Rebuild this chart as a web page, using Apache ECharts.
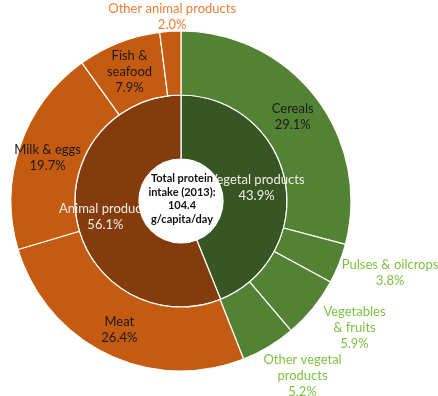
<!DOCTYPE html>
<html>
<head>
<meta charset="utf-8">
<script src="https://cdn.jsdelivr.net/npm/echarts@6/dist/echarts.min.js"></script>
<style>
  html, body { margin: 0; padding: 0; background: #ffffff; }
  #chart { width: 438px; height: 396px; }
</style>
</head>
<body>
<div id="chart"></div>
<script>
// Protein intake split: inner ring by origin, outer ring by food group
const groupNames = ['Vegetal products', 'Animal products'];
const groupShares = [43.9, 56.1];

const foodNames = [
  'Cereals', 'Pulses & oilcrops', 'Vegetables\n& fruits', 'Other vegetal\nproducts',
  'Meat', 'Milk & eggs', 'Fish &\nseafood', 'Other animal products'
];
const foodShares = [29.1, 3.8, 5.9, 5.2, 26.4, 19.7, 7.9, 2.0];

const centerText = 'Total protein\nintake (2013):\n104.4\ng/capita/day';

// Colours
const innerColors = ['#375623', '#843C0C'];
const outerColors = ['#548235', '#548235', '#548235', '#548235',
                     '#C55A11', '#C55A11', '#C55A11', '#C55A11'];
const FONT = 'Lato, "Open Sans", sans-serif';

// Labels of the small slices sit outside the ring
const outsideLabel = {
  'Pulses & oilcrops': { dx: 78, dy: 20, color: '#7CC242' },
  'Vegetables\n& fruits': { dx: 64, dy: 38, color: '#7CC242' },
  'Other vegetal\nproducts': { dx: 49, dy: 54, color: '#7CC242' },
  'Other animal products': { dx: 0, dy: -43, color: '#ED7D31' }
};

const CX = 181, CY = 201;
const HOLE = 42;

const chart = echarts.init(document.getElementById('chart'), null, { renderer: 'canvas' });

const ringLabel = (color) => ({
  position: 'inside',
  color: color,
  fontFamily: FONT,
  fontSize: 13,
  lineHeight: 16,
  formatter: p => p.name + '\n' + p.value.toFixed(1) + '%'
});

chart.setOption({
  backgroundColor: '#ffffff',
  animation: false,
  series: [
    {
      type: 'pie',
      z: 2,
      center: [CX, CY],
      radius: [HOLE, 106],
      startAngle: 90,
      clockwise: true,
      silent: true,
      avoidLabelOverlap: false,
      itemStyle: { borderColor: '#ffffff', borderWidth: 1.2 },
      label: ringLabel('#F4ECE6'),
      labelLine: { show: false },
      labelLayout: () => ({ dy: 1.5 }),
      data: groupNames.map((n, i) => ({
        name: n, value: groupShares[i], itemStyle: { color: innerColors[i] }
      }))
    },
    {
      type: 'pie',
      z: 2,
      center: [CX, CY],
      radius: [106, 170],
      startAngle: 90,
      clockwise: true,
      silent: true,
      avoidLabelOverlap: false,
      itemStyle: { borderColor: '#ffffff', borderWidth: 1.2 },
      label: ringLabel('#1a1a1a'),
      labelLine: { show: false },
      labelLayout: p => {
        const o = outsideLabel[foodNames[p.dataIndex]];
        return o ? { dx: o.dx, dy: o.dy } : { dy: 2 };
      },
      data: foodNames.map((n, i) => {
        const o = outsideLabel[n];
        const d = { name: n, value: foodShares[i], itemStyle: { color: outerColors[i] } };
        if (o) d.label = { color: o.color };
        return d;
      })
    },
    {
      // white disc in the middle, drawn over the inner labels
      type: 'pie',
      z: 5,
      center: [CX, CY],
      radius: [0, HOLE],
      silent: true,
      itemStyle: { color: '#ffffff' },
      label: { show: false },
      labelLine: { show: false },
      data: [{ name: 'Total', value: 104.4 }]
    }
  ],
  graphic: [
    {
      type: 'text',
      z: 100,
      x: CX + 1,
      y: CY - 2,
      silent: true,
      style: {
        text: centerText,
        align: 'center',
        verticalAlign: 'middle',
        fill: '#111111',
        font: 'bold 11px ' + FONT,
        lineHeight: 13.5
      }
    }
  ]
});
</script>
</body>
</html>
